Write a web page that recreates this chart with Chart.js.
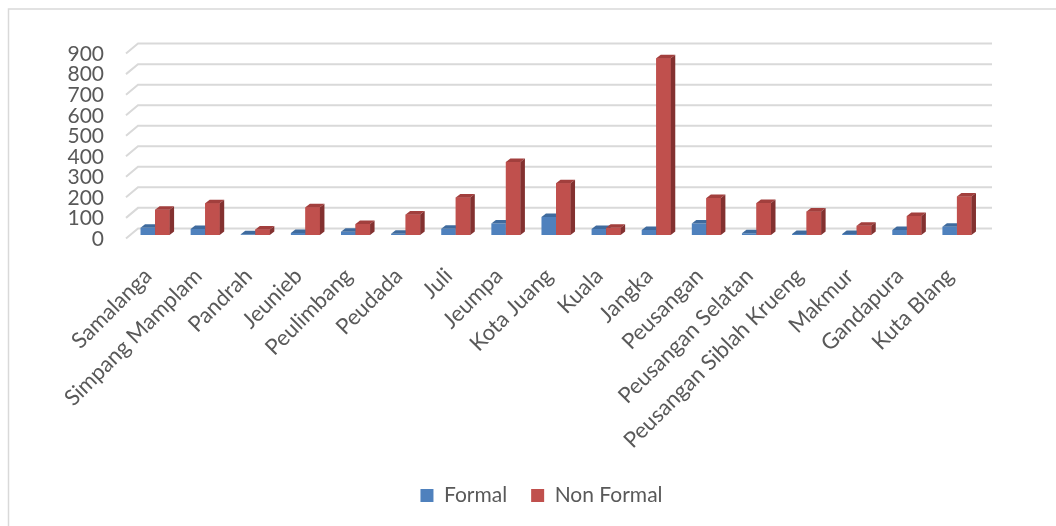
<!DOCTYPE html>
<html>
<head>
<meta charset="utf-8">
<script src="https://cdn.jsdelivr.net/npm/chart.js@4.4.1/dist/chart.umd.min.js"></script>
<style>
  html, body { margin: 0; padding: 0; background: #fff; }
  #box { width: 1056px; height: 526px; }
</style>
</head>
<body>
<div id="box"><canvas id="myChart" width="1056" height="526"></canvas></div>
<script>
const kecamatan = ['Samalanga', 'Simpang Mamplam', 'Pandrah', 'Jeunieb', 'Peulimbang', 'Peudada', 'Juli',
  'Jeumpa', 'Kota Juang', 'Kuala', 'Jangka', 'Peusangan', 'Peusangan Selatan', 'Peusangan Siblah Krueng',
  'Makmur', 'Gandapura', 'Kuta Blang'];
const formal = [35, 29, 4, 10, 16, 6, 30, 56, 88, 29, 24, 56, 8, 5, 5, 24, 40];
const nonFormal = [123, 155, 27, 135, 53, 100, 183, 356, 252, 35, 861, 180, 156, 115, 45, 92, 187];
const yMax = 900;
const yStep = 100;

// warna ala Excel 2010
const blue = { front: '#4F81BD', top: '#3F6B9E', side: '#2F5583' };
const red = { front: '#C0504D', top: '#A23F3D', side: '#833130' };

// kedalaman tampilan 3D
const DX = 4.5, DY = 3.5;
const WALL_DX = 12, WALL_DY = 10, BACK_DY = 6.6;
const LEGEND_CENTER = 541.5;

const frame3d = {
  id: 'frame3d',
  afterLayout(chart) {
    // legenda di Excel sedikit bergeser ke kanan
    const lg = chart.legend;
    const shift = LEGEND_CENTER - (lg.left + lg.right) / 2;
    lg.left += shift;
    lg.right += shift;
  },
  beforeDraw(chart) {
    const ctx = chart.ctx;
    ctx.save();
    ctx.strokeStyle = '#d9d9d9';
    ctx.lineWidth = 1.5;
    ctx.beginPath();
    ctx.moveTo(8.5, 526);
    ctx.lineTo(8.5, 9);
    ctx.lineTo(1056, 9);
    ctx.stroke();
    ctx.restore();
  },
  beforeDatasetsDraw(chart) {
    const ctx = chart.ctx;
    const y = chart.scales.y;
    const area = chart.chartArea;
    ctx.save();
    ctx.strokeStyle = '#d9d9d9';
    ctx.lineWidth = 2;
    y.ticks.forEach(t => {
      const py = y.getPixelForValue(t.value) - BACK_DY;
      ctx.beginPath();
      ctx.moveTo(area.left - 4, py + WALL_DY);
      ctx.lineTo(area.left - 4 + WALL_DX, py);
      ctx.lineTo(area.right + 10, py);
      ctx.stroke();
    });
    ctx.restore();
  },
  afterDatasetsDraw(chart) {
    const ctx = chart.ctx;
    const cols = [blue, red];
    ctx.save();
    kecamatan.forEach((k, i) => {
      [0, 1].forEach(d => {
        const bar = chart.getDatasetMeta(d).data[i];
        const c = cols[d];
        const l = bar.x - bar.width / 2, r = bar.x + bar.width / 2;
        const t = bar.y, b = bar.base;
        if (d === 1) {
          ctx.fillStyle = c.front;
          ctx.fillRect(l, t, r - l, b - t);
        }
        ctx.fillStyle = c.top;
        ctx.beginPath();
        ctx.moveTo(l, t);
        ctx.lineTo(l + DX, t - DY);
        ctx.lineTo(r + DX, t - DY);
        ctx.lineTo(r, t);
        ctx.closePath();
        ctx.fill();
        ctx.fillStyle = c.side;
        ctx.beginPath();
        ctx.moveTo(r, t);
        ctx.lineTo(r + DX, t - DY);
        ctx.lineTo(r + DX, b - DY);
        ctx.lineTo(r, b);
        ctx.closePath();
        ctx.fill();
      });
    });
    ctx.restore();
  }
};

const ctx = document.getElementById('myChart').getContext('2d');
new Chart(ctx, {
  type: 'bar',
  data: {
    labels: kecamatan,
    datasets: [
      { label: 'Formal', data: formal, backgroundColor: blue.front, borderWidth: 0 },
      { label: 'Non Formal', data: nonFormal, backgroundColor: red.front, borderWidth: 0 }
    ]
  },
  options: {
    responsive: false,
    animation: false,
    events: [],
    datasets: { bar: { barPercentage: 1, categoryPercentage: 0.58 } },
    layout: { padding: { top: 50.2, right: 74, bottom: 10, left: 40 } },
    scales: {
      x: {
        grid: { display: false },
        border: { display: false },
        ticks: {
          maxRotation: 45, minRotation: 45, autoSkip: false,
          color: '#595959', padding: 20, labelOffset: -7,
          font: { family: 'Lato', size: 22 }
        },
        afterFit(scale) { scale.height = 226; }
      },
      y: {
        min: 0, max: yMax,
        grid: { display: false },
        border: { display: false },
        ticks: {
          stepSize: yStep, autoSkip: false, color: '#595959', padding: 18, labelOffset: 4,
          font: { family: 'Lato', size: 21 }
        },
        afterFit(scale) { scale.width = 90; }
      }
    },
    plugins: {
      tooltip: { enabled: false },
      legend: {
        position: 'bottom',
        labels: {
          boxWidth: 13, boxHeight: 13, padding: 24,
          color: '#595959', font: { family: 'Lato', size: 21 }
        }
      }
    }
  },
  plugins: [frame3d]
});
</script>
</body>
</html>
